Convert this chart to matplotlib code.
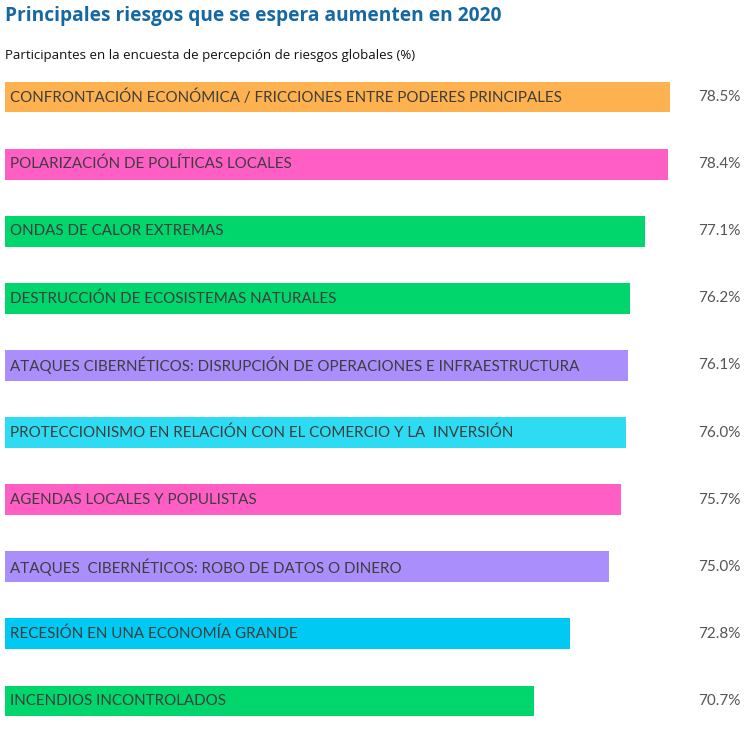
import matplotlib.pyplot as plt
import matplotlib.transforms as mtransforms

# Risk labels, top to bottom
labels = [
    'CONFRONTACIÓN ECONÓMICA / FRICCIONES ENTRE PODERES PRINCIPALES',
    'POLARIZACIÓN DE POLÍTICAS LOCALES',
    'ONDAS DE CALOR EXTREMAS',
    'DESTRUCCIÓN DE ECOSISTEMAS NATURALES',
    'ATAQUES CIBERNÉTICOS: DISRUPCIÓN DE OPERACIONES E INFRAESTRUCTURA',
    'PROTECCIONISMO EN RELACIÓN CON EL COMERCIO Y LA  INVERSIÓN',
    'AGENDAS LOCALES Y POPULISTAS',
    'ATAQUES  CIBERNÉTICOS: ROBO DE DATOS O DINERO',
    'RECESIÓN EN UNA ECONOMÍA GRANDE',
    'INCENDIOS INCONTROLADOS',
]
values = [78.5, 78.4, 77.1, 76.2, 76.1, 76.0, 75.7, 75.0, 72.8, 70.7]
colors = ['#fdb14f', '#ff5fc5', '#00d66b', '#00d66b', '#a98efc',
          '#2ddcf3', '#ff5fc5', '#a98efc', '#00c9f4', '#00d66b']

fig = plt.figure(figsize=(7.5, 7.49), dpi=100)

fig.text(5 / 750, 1 - 16 / 749, 'Principales riesgos que se espera aumenten en 2020',
         fontsize=13.8, fontweight='bold', color='#1668a2', family='Open Sans',
         va='center', ha='left')
fig.text(5 / 750, 1 - 56 / 749, 'Participantes en la encuesta de percepción de riesgos globales (%)',
         fontsize=9.5, color='#111111', family='Open Sans', va='center', ha='left')

ax = fig.add_axes([5 / 750, 1 - 734.5 / 749, 745 / 750, 671 / 749])
y = list(range(len(values)))
ax.barh(y, values, height=0.46, color=colors)
ax.set_ylim(len(values) - 0.5, -0.5)
ax.set_xlim(40.4, 83.1)

for i, lab in enumerate(labels):
    ax.text(40.7, i, lab, fontsize=10.9, family='Lato', color='#3d3d3d',
            va='center', ha='left')

trans = mtransforms.blended_transform_factory(ax.transAxes, ax.transData)
for i, v in enumerate(values):
    ax.text(0.9866, i, f'{v:.1f}%', transform=trans, fontsize=11, family='Lato',
            color='#555555', va='center', ha='right')

ax.axis('off')
fig.savefig('out.png', dpi=100)
